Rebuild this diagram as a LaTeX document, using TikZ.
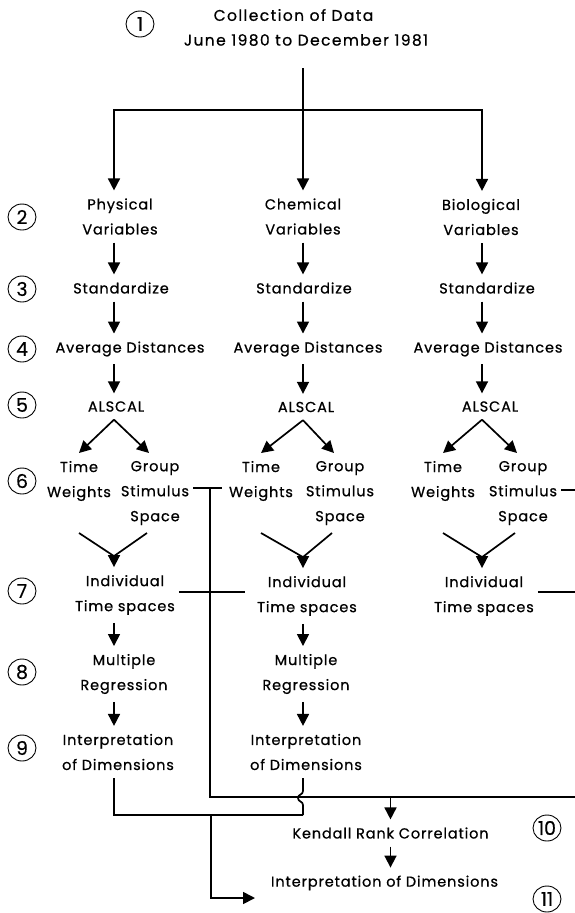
\documentclass[tikz,border=0pt]{standalone}
\usepackage{fontspec}
\setmainfont{Poppins}[LetterSpace=6,FakeBold=0.7]
\newfontfamily\titlefont{Poppins}[LetterSpace=9,FakeBold=0.7]
\newfontfamily\numfont{Poppins}[FakeBold=0.3]
\usetikzlibrary{arrows.meta,shapes.geometric,calc}
\begin{document}
\begin{tikzpicture}[x=1pt,y=-1pt,
  lbl/.style={inner sep=0pt, outer xsep=4pt, outer ysep=8pt, align=center, font=\fontsize{14.5}{25}\selectfont},
  ttl/.style={lbl, font=\titlefont\fontsize{15.5}{25}\selectfont},
  num/.style={ellipse, draw, line width=0.9pt, minimum width=28pt, minimum height=26pt, inner sep=0pt, font=\numfont\fontsize{19}{19}\selectfont},
  ln/.style={line width=1.7pt},
  arr/.style={ln, -{Triangle[width=12pt,length=12pt]}}
]
\useasboundingbox (0,0) rectangle (575,913);
\coordinate (cL) at (114,0);
\coordinate (cM) at (303,0);
\coordinate (cR) at (482,0);

% step numbers
\node[num] (n1) at (140,24) {1};
\node[num] (n2) at (22,217) {2};
\node[num] (n3) at (22,289) {3};
\node[num] (n4) at (22,349) {4};
\node[num] (n5) at (22,405) {5};
\node[num] (n6) at (22,481) {6};
\node[num] (n7) at (22,591) {7};
\node[num] (n8) at (22,672) {8};
\node[num] (n9) at (22,748) {9};
\node[num] (n10) at (547,828) {10};
\node[num] (n11) at (547,899) {11};

% title
\node[ttl] (title) at (293.5,15) {Collection of Data};
\node[ttl] (dates) at (306,40) {June 1980 to December 1981};
\coordinate (src) at (303,68);
\coordinate (bus) at (303,110);

% row 2
\node[lbl] (phys) at (120,216.5) {Physical\\Variables};
\node[lbl] (chem) at (303,216.5) {Chemical\\Variables};
\node[lbl] (bio) at (481,217) {Biological\\Variables};
% row 3
\node[lbl] (stdL) at (121,288) {Standardize};
\node[lbl] (stdM) at (304,288) {Standardize};
\node[lbl] (stdR) at (487,288) {Standardize};
% row 4
\node[lbl] (avgL) at (130,349) {Average Distances};
\node[lbl] (avgM) at (308,349) {Average Distances};
\node[lbl] (avgR) at (488,349) {Average Distances};
% row 5
\node[lbl] (alsL) at (116,406.5) {ALSCAL};
\node[lbl] (alsM) at (306,407) {ALSCAL};
\node[lbl] (alsR) at (490,406.5) {ALSCAL};
% row 6
\node[lbl] (twL) at (79,481) {Time\\Weights};
\node[lbl] (gsL) at (155,493) {Group\\Stimulus\\Space};
\node[lbl] (twM) at (261,481) {Time\\Weights};
\node[lbl] (gsM) at (340,493) {Group\\Stimulus\\Space};
\node[lbl] (twR) at (443,481) {Time\\Weights};
\node[lbl] (gsR) at (523,493) {Group\\Stimulus\\Space};
% row 7
\node[lbl] (itL) at (125,595) {Individual\\Time spaces};
\node[lbl] (itM) at (307,596) {Individual\\Time spaces};
\node[lbl] (itR) at (484,596) {Individual\\Time spaces};
% row 8
\node[lbl] (mrL) at (124,674) {Multiple\\Regression};
\node[lbl] (mrM) at (306,674) {Multiple\\Regression};
% row 9
\node[lbl] (idL) at (118,752) {Interpretation\\of Dimensions};
\node[lbl] (idM) at (306,752) {Interpretation\\of Dimensions};
% rows 10, 11
\node[lbl] (kendall) at (390.5,833) {Kendall Rank Correlation};
\node[lbl] (int2) at (384.5,883) {Interpretation of Dimensions};

% top distribution
\draw[arr] (src) -- (chem.north -| cM);
\draw[arr] (bus) -| (phys.north -| cL);
\draw[arr] (bus) -| (bio.north -| cR);

% vertical chains
\foreach \a/\b/\c in {phys/stdL/cL, stdL/avgL/cL, avgL/alsL/cL,
                      chem/stdM/cM, stdM/avgM/cM, avgM/alsM/cM,
                      bio/stdR/cR, stdR/avgR/cR, avgR/alsR/cR,
                      itL/mrL/cL, mrL/idL/cL, itM/mrM/cM, mrM/idM/cM}
  \draw[arr] (\a.south -| \c) -- (\b.north -| \c);

% ALSCAL forks
\foreach \s/\t/\g/\c in {alsL/twL/gsL/cL, alsM/twM/gsM/cM, alsR/twR/gsR/cR}{
  \draw[arr] (\s.south -| \c) -- ([xshift=0pt]\t.north);
  \draw[arr] (\s.south -| \c) -- ([xshift=-6pt]\g.north);
}

% V joins into Individual Time spaces
\foreach \t/\g/\i/\c in {twL/gsL/itL/cL, twM/gsM/itM/cM, twR/gsR/itR/cR}{
  \draw[ln] (\t.south |- \g.south) -- ($(\i.north -| \c)+(0,-11)$) -- ([xshift=-8pt]\g.south);
  \draw[arr] ($(\i.north -| \c)+(0,-12)$) -- (\i.north -| \c);
}

% cross links
\coordinate (j1) at (210,488);
\coordinate (j1e) at (222,488);
\coordinate (rb) at (575,797);
\draw[ln] (gsL.east |- j1) -- (j1e);
\draw[ln] (j1) |- (rb);
\coordinate (j2) at (245,592);
\draw[ln] (itL.east |- j2) -- (j2);
\coordinate (rs) at (575,490);
\draw[ln] (gsR.east |- rs) -- (rs);
\coordinate (ri) at (575,592);
\draw[ln] (itR.east |- ri) -- (ri);

\draw[arr] (kendall.north |- rb) -- (kendall.north);
\draw[arr] (kendall.south) -- (int2.north -| kendall.south);

% bottom collection
\coordinate (h) at (303,815);
\coordinate (k) at (211,815);
\coordinate (tip) at (255,898);
\draw[ln] (idL.south -| cL) |- (h);
\draw[ln] (idM.south -| cM) -- (303,791) .. controls (303,795) and (298,794) .. (298,798)
          .. controls (298,802) and (303,801) .. (303,805) -- (h);
\draw[arr] (k) |- (tip);
\end{tikzpicture}
\end{document}
